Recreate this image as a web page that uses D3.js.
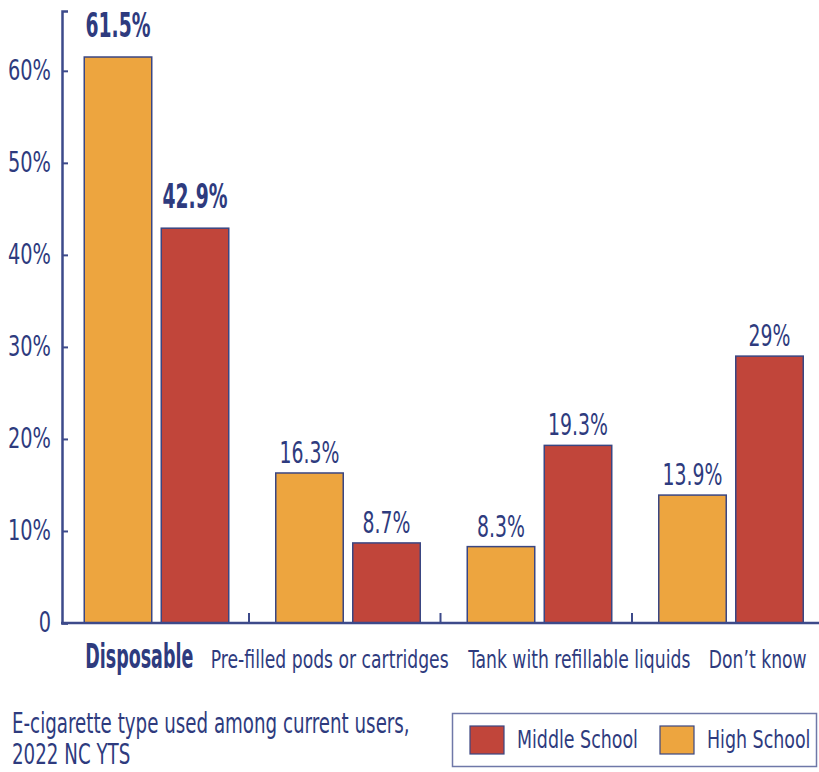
<!DOCTYPE html>
<html>
<head>
<meta charset="utf-8">
<script src="https://cdn.jsdelivr.net/npm/d3@7"></script>
<style>
  html, body { margin: 0; padding: 0; background: #ffffff; }
  svg { display: block; }
  text { font-family: 'Liberation Sans Narrow', 'Arial Narrow', 'DejaVu Sans Condensed', 'Liberation Sans', sans-serif; fill: #2e3b7e; }
</style>
</head>
<body>
<svg id="chart" width="819" height="772"></svg>
<script>
// E-cigarette type used among current users, 2022 NC YTS
const categories = ["Disposable", "Pre-filled pods or cartridges", "Tank with refillable liquids", "Don\u2019t know"];
const seriesNames = ["High School", "Middle School"];
const highSchool = [61.5, 16.3, 8.3, 13.9];
const middleSchool = [42.9, 8.7, 19.3, 29];
const yTicks = [0, 10, 20, 30, 40, 50, 60];
const legendOrder = ["Middle School", "High School"];
const titleLines = ["E-cigarette type used among current users,", "2022 NC YTS"];

const colors = { "High School": "#eda53f", "Middle School": "#c1453a" };
const navy = "#2e3b7e";
const axisColor = "#3d4a8a";
const emphasised = categories[0];

const svg = d3.select("#chart");

const x0 = d3.scaleBand().domain(categories).range([57.5, 823.5]).paddingInner(0).paddingOuter(0);
const x1 = d3.scaleBand().domain(seriesNames).range([26, 172]).paddingInner(0.104).paddingOuter(0);
const y = d3.scaleLinear().domain([0, 66.5]).range([623, 11]);

const rows = categories.map((c, i) => ({
  category: c,
  values: [
    { series: "High School", value: highSchool[i] },
    { series: "Middle School", value: middleSchool[i] }
  ]
}));

// The typeface is a tightly condensed one; each text style gets a horizontal
// squeeze so that a sample string comes out at its intended width.
function squeezeFor(sample, size, weight, width) {
  const probe = svg.append("text")
    .attr("font-size", size).attr("font-weight", weight).text(sample);
  const w = probe.node().getComputedTextLength();
  probe.remove();
  return width / w;
}
const fx = {
  value: squeezeFor("19.3%", 31, "normal", 60),
  valueBold: squeezeFor("61.5%", 33, "bold", 65),
  tick: squeezeFor("60%", 28, "normal", 43),
  cat: squeezeFor("Pre-filled pods or cartridges", 25, "normal", 238),
  catBold: squeezeFor("Disposable", 34, "bold", 108),
  title: squeezeFor(titleLines[0], 28, "normal", 398),
  legend: squeezeFor("Middle School", 24, "normal", 121)
};

function placeText(parent, px, py, sx, str) {
  return parent.append("text")
    .attr("transform", `translate(${px},${py}) scale(${sx},1)`)
    .text(str);
}

// bars
const groups = svg.append("g").selectAll("g")
  .data(rows).join("g")
  .attr("transform", d => `translate(${x0(d.category)},0)`);

groups.selectAll("rect")
  .data(d => d.values).join("rect")
  .attr("x", d => x1(d.series) + 0.75)
  .attr("width", x1.bandwidth() - 1.5)
  .attr("y", d => y(d.value))
  .attr("height", d => y(0) - y(d.value))
  .attr("fill", d => colors[d.series])
  .attr("stroke", "#3a4682")
  .attr("stroke-width", 1.5);

// value labels
rows.forEach(r => {
  const bold = r.category === emphasised;
  r.values.forEach(v => {
    placeText(svg,
      x0(r.category) + x1(v.series) + x1.bandwidth() / 2,
      y(v.value) - (bold ? 20 : 10),
      bold ? fx.valueBold : fx.value,
      `${v.value}%`)
      .attr("text-anchor", "middle")
      .attr("font-size", bold ? 33 : 31)
      .attr("font-weight", bold ? "bold" : "normal");
  });
});

// y axis: ticks point inward, bracket at the top
const yAxis = d3.axisLeft(y)
  .tickValues(yTicks)
  .tickSizeInner(-6)
  .tickSizeOuter(-6)
  .tickPadding(0)
  .tickFormat(d => d === 0 ? "0" : `${d}%`);

const yg = svg.append("g").attr("transform", "translate(62,0)").call(yAxis);
yg.select(".domain").attr("stroke", axisColor).attr("stroke-width", 2.5);
yg.selectAll(".tick line").attr("stroke", axisColor).attr("stroke-width", 2);
yg.selectAll(".tick text")
  .attr("font-family", null)
  .attr("font-size", 28)
  .attr("fill", navy)
  .attr("x", 0)
  .attr("transform", `translate(-11,0) scale(${fx.tick},1)`);

// x axis baseline with separators between categories
svg.append("line")
  .attr("x1", 61).attr("x2", 819)
  .attr("y1", y(0)).attr("y2", y(0))
  .attr("stroke", axisColor).attr("stroke-width", 2.5);

svg.append("g").selectAll("line")
  .data(categories.slice(1)).join("line")
  .attr("x1", d => x0(d)).attr("x2", d => x0(d))
  .attr("y1", y(0)).attr("y2", y(0) - 10)
  .attr("stroke", axisColor).attr("stroke-width", 2);

// category labels
const labelShift = [-14, -15, 43, 30];
categories.forEach((c, i) => {
  const bold = c === emphasised;
  placeText(svg, x0(c) + x0.bandwidth() / 2 + labelShift[i], 668,
    bold ? fx.catBold : fx.cat, c)
    .attr("text-anchor", "middle")
    .attr("font-size", bold ? 34 : 25)
    .attr("font-weight", bold ? "bold" : "normal");
});

// title
titleLines.forEach((line, i) => {
  placeText(svg, 12, 733 + i * 31, fx.title, line).attr("font-size", 28);
});

// legend
const legend = svg.append("g");
legend.append("rect")
  .attr("x", 452.5).attr("y", 713.5)
  .attr("width", 364).attr("height", 53)
  .attr("fill", "#ffffff")
  .attr("stroke", "#6f78a8").attr("stroke-width", 1.5);

const legendX = { "Middle School": 470, "High School": 660 };
legendOrder.forEach(name => {
  legend.append("rect")
    .attr("x", legendX[name]).attr("y", 726)
    .attr("width", 34).attr("height", 28)
    .attr("fill", colors[name])
    .attr("stroke", "#3a4682").attr("stroke-width", 1.2);
  placeText(legend, legendX[name] + 47, 748, fx.legend, name).attr("font-size", 24);
});
</script>
</body>
</html>
